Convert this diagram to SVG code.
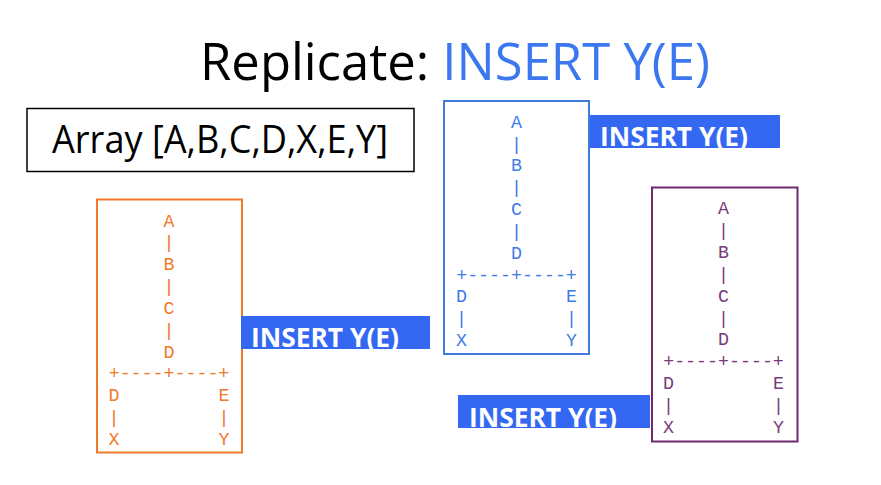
<svg xmlns="http://www.w3.org/2000/svg" width="881" height="485" viewBox="0 0 881 485">
<style>
.title{font-family:"Open Sans","Liberation Sans",sans-serif;font-size:52px;}
.arr{font-family:"Open Sans","Liberation Sans",sans-serif;font-size:38px;fill:#000;}
.lbl{font-family:"Open Sans","Liberation Sans",sans-serif;font-size:27px;font-weight:bold;fill:#fff;}
.lblbg{fill:#3468F2;}
.t{font-family:"Courier New","Liberation Mono",monospace;font-size:18.3px;text-anchor:middle;}
.box{fill:#fff;stroke-width:2;}
</style>
<rect width="881" height="485" fill="#fff"/>
<g id="title">
<text class="title" x="200" y="80" textLength="510" lengthAdjust="spacingAndGlyphs"><tspan fill="#000">Replicate: </tspan><tspan fill="#3B78F0">INSERT Y(E)</tspan></text>
</g>
<g id="array">
<rect x="27" y="108.5" width="387" height="63" fill="#fff" stroke="#000" stroke-width="1.5"/>
<text class="arr" x="52" y="153" textLength="336" lengthAdjust="spacingAndGlyphs">Array [A,B,C,D,X,E,Y]</text>
</g>
<g id="tree-orange">
<rect class="box" x="97" y="199.5" width="145" height="253" stroke="#F07A2A"/>
<g fill="#F07A2A" transform="translate(169,226.5)">
<text class="t" x="0" y="0">A</text>
<text class="t" x="0" y="21.85">|</text>
<text class="t" x="0" y="43.7">B</text>
<text class="t" x="0" y="65.55">|</text>
<text class="t" x="0" y="87.4">C</text>
<text class="t" x="0" y="109.25">|</text>
<text class="t" x="0" y="131.1">D</text>
<text class="t" x="0" y="152.95">+----+----+</text>
<text class="t" x="-55" y="174.8">D</text>
<text class="t" x="55" y="174.8">E</text>
<text class="t" x="-55" y="196.65">|</text>
<text class="t" x="55" y="196.65">|</text>
<text class="t" x="-55" y="218.5">X</text>
<text class="t" x="55" y="218.5">Y</text>
</g>
</g>
<g id="tree-blue">
<rect class="box" x="444" y="101" width="145" height="253" stroke="#3F7BDC"/>
<g fill="#3F7BE6" transform="translate(516.5,127.7)">
<text class="t" x="0" y="0">A</text>
<text class="t" x="0" y="21.85">|</text>
<text class="t" x="0" y="43.7">B</text>
<text class="t" x="0" y="65.55">|</text>
<text class="t" x="0" y="87.4">C</text>
<text class="t" x="0" y="109.25">|</text>
<text class="t" x="0" y="131.1">D</text>
<text class="t" x="0" y="152.95">+----+----+</text>
<text class="t" x="-55" y="174.8">D</text>
<text class="t" x="55" y="174.8">E</text>
<text class="t" x="-55" y="196.65">|</text>
<text class="t" x="55" y="196.65">|</text>
<text class="t" x="-55" y="218.5">X</text>
<text class="t" x="55" y="218.5">Y</text>
</g>
</g>
<g id="tree-purple">
<rect class="box" x="652" y="187.5" width="145.5" height="254" stroke="#6E2A6E"/>
<g fill="#7A3A7A" transform="translate(723.5,214.3)">
<text class="t" x="0" y="0">A</text>
<text class="t" x="0" y="21.85">|</text>
<text class="t" x="0" y="43.7">B</text>
<text class="t" x="0" y="65.55">|</text>
<text class="t" x="0" y="87.4">C</text>
<text class="t" x="0" y="109.25">|</text>
<text class="t" x="0" y="131.1">D</text>
<text class="t" x="0" y="152.95">+----+----+</text>
<text class="t" x="-55" y="174.8">D</text>
<text class="t" x="55" y="174.8">E</text>
<text class="t" x="-55" y="196.65">|</text>
<text class="t" x="55" y="196.65">|</text>
<text class="t" x="-55" y="218.5">X</text>
<text class="t" x="55" y="218.5">Y</text>
</g>
</g>
<g id="label-1">
<rect class="lblbg" x="241" y="316" width="189" height="33"/>
<text class="lbl" x="251" y="347" textLength="148" lengthAdjust="spacingAndGlyphs">INSERT Y(E)</text>
</g>
<g id="label-2">
<rect class="lblbg" x="590" y="115" width="190" height="33"/>
<text class="lbl" x="600" y="146" textLength="148" lengthAdjust="spacingAndGlyphs">INSERT Y(E)</text>
</g>
<g id="label-3">
<rect class="lblbg" x="458" y="395" width="192" height="33"/>
<text class="lbl" x="469" y="427" textLength="148" lengthAdjust="spacingAndGlyphs">INSERT Y(E)</text>
</g>
</svg>
